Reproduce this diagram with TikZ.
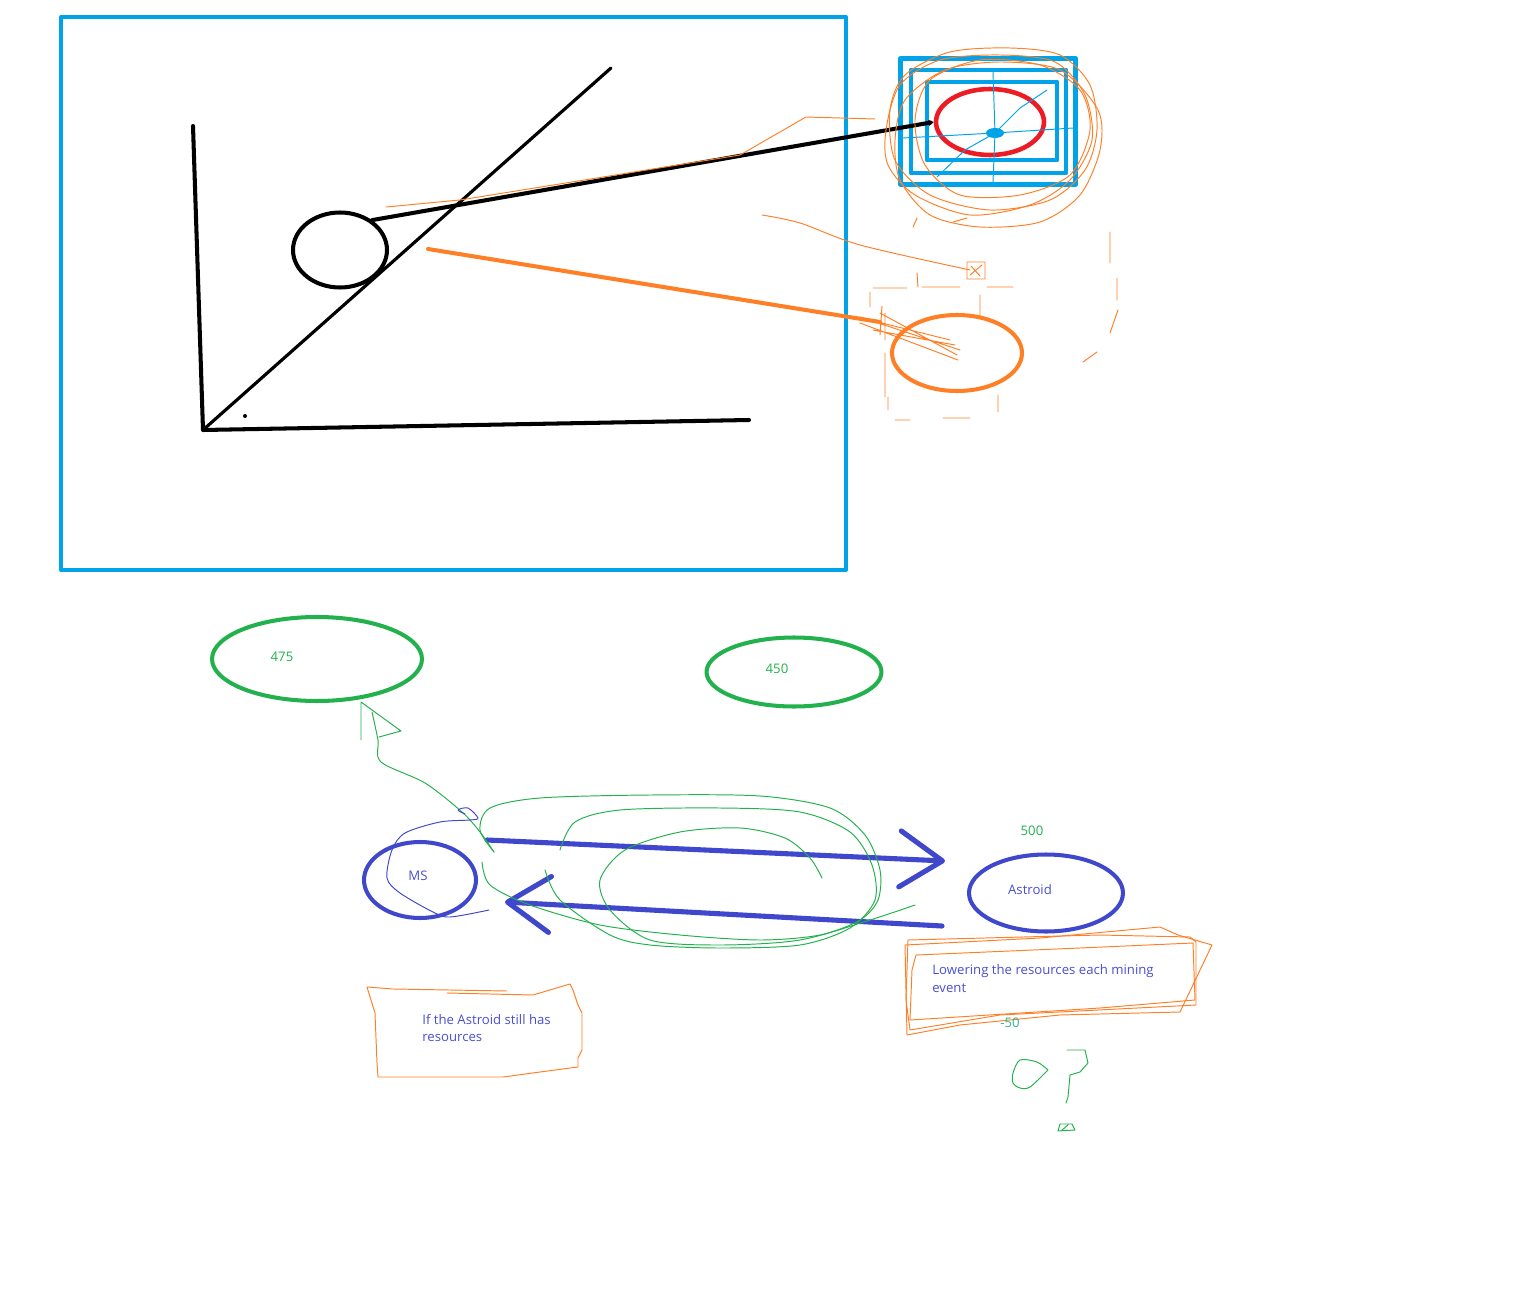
\documentclass[tikz,border=0pt]{standalone}
\usepackage{fontspec}
\setmainfont{Open Sans}
\usetikzlibrary{shapes.geometric,arrows.meta}

\definecolor{paintblue}{HTML}{00A2E8}
\definecolor{paintred}{HTML}{ED1C24}
\definecolor{paintorange}{HTML}{FF7F27}
\definecolor{paintgreen}{HTML}{22B14C}
\definecolor{paintindigo}{HTML}{3F48CC}
\definecolor{painttext}{HTML}{4A4FD0}
\definecolor{paintteal}{HTML}{2BB39B}

\begin{document}
\begin{tikzpicture}[x=0.02cm,y=-0.02cm,line cap=round,line join=round,
    pen/.style={line width=2.3pt},
    blob/.style={draw,ellipse,line width=2.3pt,inner sep=0pt},
    scribble/.style={line width=0.55pt},
    txt/.style={font=\fontsize{7.5}{10.2}\selectfont,inner sep=0pt},
    bigarrow/.style={paintindigo,line width=2.9pt,-{Straight Barb[length=0.85cm,width=1.12cm,round]}}]
    \useasboundingbox (0,0) rectangle (1536,1291);

    %marco grande
    \draw[paintblue,pen] (61,17) rectangle (846,570);

    %ejes y rampa
    \draw[pen] (193,126) -- (203,430) -- (749,420);
    \draw[line width=1.8pt] (203,430) -- (611,68);
    \fill (245,416) circle (2);
    \node[blob,draw=black,minimum width=1.88cm,minimum height=1.5cm] (ball) at (340,250) {};

    %vista ampliada
    \draw[paintblue,line width=2.8pt] (900.5,58.5) rectangle (1075.5,184.5);
    \draw[paintblue,line width=2.8pt] (911,70) rectangle (1066,173);
    \draw[paintblue,line width=2.8pt] (927,82) rectangle (1057,160);
    \node[blob,draw=paintred,line width=2.6pt,minimum width=2.16cm,minimum height=1.32cm] (eye) at (990,122) {};
    \draw[paintblue,scribble] (993,72) -- (995,133) -- (993,182);
    \draw[paintblue,scribble] (903,138) -- (995,133) -- (1073,128);
    \draw[paintblue,scribble] (1047,90) -- (1020,108) -- (995,133) -- (965,150) -- (937,177);
    \fill[paintblue] (995,133) ellipse (9 and 5);
    \node[blob,draw=paintorange,minimum width=2.6cm,minimum height=1.52cm] (spot) at (957,353) {};

    \draw[pen,-{Stealth[length=3pt,width=3.5pt]}] (ball.43) -- (eye.west);
    \coordinate (rayA) at (428,249);
    \coordinate (rayB) at (880,322);
    \draw[paintorange,pen] (rayA) -- (rayB);

    %garabatos naranjas
    \draw[paintorange,scribble] (386,207) -- (460,200) -- (740,155) -- (806,117) -- (875,119);
    \draw[paintorange,scribble] plot[smooth cycle] coordinates {(890,110) (905,75) (950,52) (1010,48) (1060,55) (1090,85) (1097,130) (1085,170) (1050,200) (990,210) (930,195) (895,160)};
    \draw[paintorange,scribble] plot[smooth cycle] coordinates {(886,130) (900,85) (940,60) (1000,55) (1055,62) (1085,95) (1092,140) (1070,180) (1030,205) (970,215) (915,195) (888,165)};
    \draw[paintorange,scribble] plot[smooth cycle] coordinates {(895,140) (905,100) (945,70) (1000,62) (1060,70) (1098,110) (1100,150) (1080,195) (1040,222) (980,227) (930,215) (900,180)};
    \draw[paintorange,scribble] plot[smooth cycle] coordinates {(915,120) (930,80) (980,60) (1040,65) (1080,90) (1090,130) (1070,175) (1020,195) (960,195) (925,165)};
    \draw[paintorange,scribble] plot[smooth] coordinates {(762,215) (800,223) (860,245) (970,270)};
    \draw[paintorange,scribble] (967,262) rectangle (985,279) (970,275) -- (982,265) (971,266) -- (980,276);
    \draw[paintorange,scribble] (913,227) -- (917,218) (953,222) -- (967,218)
        (1110,232) -- (1110,263) (1117,278) -- (1117,300) (1118,310) -- (1110,333) (1097,352) -- (1083,362)
        (870,292) -- (870,307) (885,313) -- (885,340) (885,353) -- (885,397) (888,397) -- (888,410)
        (873,288) -- (907,288) (922,287) -- (960,287) (987,287) -- (1013,287)
        (980,295) -- (980,317) (998,395) -- (998,412) (917,273) -- (918,287)
        (895,420) -- (910,420) (943,418) -- (970,418);
    \draw[paintorange,scribble] (860,317) -- (960,350) (860,323) -- (958,360) (880,313) -- (957,355)
        (873,330) -- (955,345) (870,320) -- (950,340) (882,306) -- (880,335);

    %abajo
    \node[blob,draw=paintgreen,minimum width=4.2cm,minimum height=1.68cm] (r475) at (317,659) {};
    \node[txt,text=paintgreen] (t475) at (282,657) {475};
    \node[blob,draw=paintgreen,minimum width=3.5cm,minimum height=1.38cm] (r450) at (794,672) {};
    \node[txt,text=paintgreen] (t450) at (777,669) {450};

    \node[blob,draw=paintindigo,minimum width=2.24cm,minimum height=1.52cm] (ms) at (420,880) {};
    \node[txt,text=painttext] (mslbl) at (418,876) {MS};
    \node[blob,draw=paintindigo,minimum width=3.08cm,minimum height=1.54cm] (ast) at (1046,893) {};
    \node[txt,text=painttext] (astlbl) at (1030,890) {Astroid};
    \node[txt,text=paintgreen] (t500) at (1032,831) {500};

    \coordinate (goS) at (487,840);
    \coordinate (goE) at (945,861);
    \coordinate (backS) at (942,926);
    \coordinate (backE) at (505,902);
    \draw[bigarrow] (goS) -- (goE);
    \draw[bigarrow] (backS) -- (backE);

    %garabatos verdes
    \draw[paintgreen,scribble] (361,740) -- (361,702) -- (401,731) -- (379,737);
    \draw[paintgreen,scribble] plot[smooth] coordinates {(372,712) (378,740) (381,762) (425,783) (462,812) (480,832) (494,852)};
    \draw[paintgreen,scribble] plot[smooth] coordinates {(494,852) (480,830) (490,808) (540,798) (650,795) (760,796) (830,808) (865,835) (880,870) (878,900) (860,920) (820,935) (760,940) (680,935) (600,925) (530,905) (490,885) (482,862)};
    \draw[paintgreen,scribble] plot[smooth] coordinates {(560,850) (575,822) (620,810) (720,808) (800,812) (850,832) (872,865) (875,900) (850,928) (800,945) (720,948) (650,945) (610,935) (560,900) (545,870)};
    \draw[paintgreen,scribble] plot[smooth] coordinates {(822,878) (810,858) (785,838) (740,828) (680,832) (625,850) (600,880) (610,910) (650,940) (720,945) (800,940) (870,920) (915,905)};

    %garabato azul
    \draw[paintindigo,scribble] plot[smooth] coordinates {(489,910) (450,917) (433,912) (400,893) (387,878) (392,850) (405,833) (440,822) (470,820) (478,818) (468,808) (458,810) (465,814)};

    %cajas de texto
    \draw[paintorange,scribble] (447,993) -- (533,995) -- (570,984) -- (573,990) -- (578,1005) -- (582,1013)
        -- (582,1050) -- (578,1058) -- (578,1067) -- (540,1072) -- (503,1077) -- (378,1077) -- (377,1063)
        -- (375,1013) -- (367,987) -- (393,989) -- (507,991);
    \node[txt,text=painttext,anchor=west,align=left] (check) at (422,1028) {If the Astroid still has\\resources};

    \draw[paintorange,scribble] (905,945) -- (1040,938) -- (1160,927) -- (1178,935) -- (1212,945) -- (1180,1012)
        -- (1060,1015) -- (960,1025) -- (907,1035) -- cycle;
    \draw[paintorange,scribble] (908,940) -- (1100,935) -- (1190,937) -- (1196,942) -- (1196,1005) -- (1000,1015)
        -- (910,1030) -- (906,1000) -- cycle;
    \draw[paintorange,scribble] (916,955) -- (1080,948) -- (1193,943) -- (1195,1000) -- (1100,1008) -- (910,1020)
        -- (912,970) -- cycle;
    \node[txt,text=painttext,anchor=west,align=left] (lower) at (932,979) {Lowering the resources each mining\\event};
    \node[txt,text=paintteal] (minus) at (1010,1023) {-50};

    %signo de pregunta
    \draw[paintgreen,scribble] plot[smooth] coordinates {(1048,1070) (1037,1062) (1020,1060) (1013,1073) (1013,1083) (1020,1088) (1030,1087) (1048,1070)};
    \draw[paintgreen,scribble] (1067,1050) -- (1085,1050) -- (1088,1063) -- (1080,1072) -- (1070,1075) -- (1068,1097) -- (1066,1103);
    \draw[paintgreen,scribble] (1058,1131) -- (1060,1124) -- (1072,1124) -- (1075,1130) -- cycle (1062,1130) -- (1068,1125);
\end{tikzpicture}
\end{document}
